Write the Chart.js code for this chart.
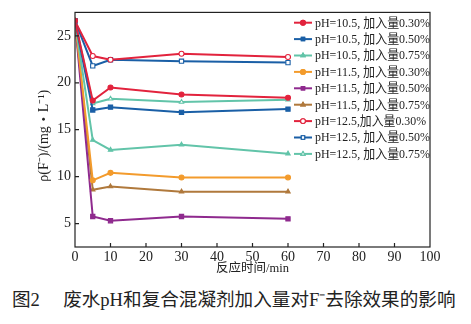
<!DOCTYPE html>
<html>
<head>
<meta charset="utf-8">
<script src="https://cdn.jsdelivr.net/npm/chart.js@4.4.1/dist/chart.umd.min.js"></script>
<style>
  body { margin: 0; background: #fff; }
  #wrap { width: 471px; height: 280px; position: relative; }
  #caption {
    position: absolute; left: 12px; top: 284px; width: 460px;
    font: 18.6px "Liberation Serif", "Noto Sans CJK SC", serif; color: #222;
    white-space: nowrap;
  }
</style>
</head>
<body>
<div id="wrap"><canvas id="chart" width="471" height="280"></canvas></div>
<div id="caption">图2　 废水pH和复合混凝剂加入量对F⁻去除效果的影响</div>
<script>
const times = [0, 5, 10, 30, 60]
const labels = [
  'pH=10.5, 加入量0.30%',
  'pH=10.5, 加入量0.50%',
  'pH=10.5, 加入量0.75%',
  'pH=11.5, 加入量0.30%',
  'pH=11.5, 加入量0.50%',
  'pH=11.5, 加入量0.75%',
  'pH=12.5,加入量0.30%',
  'pH=12.5, 加入量0.50%',
  'pH=12.5, 加入量0.75%',
]
const ph105_030 = [26.6, 18.1, 19.5, 18.75, 18.4]
const ph105_050 = [26.6, 17.1, 17.4, 16.85, 17.2]
const ph105_075 = [26.6, 13.9, 12.85, 13.4, 12.45]
const ph115_030 = [26.6, 9.6, 10.4, 9.9, 9.9]
const ph115_050 = [26.6, 5.75, 5.3, 5.75, 5.5]
const ph115_075 = [26.6, 8.6, 8.95, 8.4, 8.4]
const ph125_030 = [26.6, 22.85, 22.45, 23.1, 22.75]
const ph125_050 = [26.6, 21.8, 22.45, 22.3, 22.15]
const ph125_075 = [26.6, 17.8, 18.3, 17.95, 18.2]
const yTicks = [5, 10, 15, 20, 25]
const yTitle = 'ρ(F⁻)/(mg・L⁻¹)'

const series = [ph105_030, ph105_050, ph105_075, ph115_030, ph115_050, ph115_075, ph125_030, ph125_050, ph125_075]
const colors = ['#e2233d', '#1a5fa6', '#62c4a9', '#f39b2c', '#8f2a8e', '#b0793c', '#e2233d', '#1a5fa6', '#62c4a9']
const shapes = ['circle', 'rect', 'triangle', 'circle', 'rect', 'triangle', 'circle', 'rect', 'triangle']
const hollow = [false, false, false, false, false, false, true, true, true]

const serif = '"Liberation Serif", "Noto Sans CJK SC", serif'

const datasets = series.map((vals, i) => ({
  label: labels[i],
  data: vals.map((v, j) => ({ x: times[j], y: v })),
  borderColor: colors[i],
  backgroundColor: hollow[i] ? '#fff' : colors[i],
  pointBorderColor: colors[i],
  pointBackgroundColor: hollow[i] ? '#fff' : colors[i],
  pointStyle: shapes[i],
  pointRadius: shapes[i] == 'rect' ? 3 : 2.5,
  pointBorderWidth: 1.1,
  borderWidth: 2,
  tension: 0,
}))

// frame, inward ticks, y title and the legend inside the plot
const extras = {
  id: 'extras',
  afterDraw(chart) {
    const ctx = chart.ctx
    const a = chart.chartArea
    const xs = chart.scales.x, ys = chart.scales.y
    ctx.save()
    ctx.strokeStyle = '#222'
    ctx.lineWidth = 1.2
    ctx.strokeRect(a.left, a.top, a.right - a.left, a.bottom - a.top)
    ctx.beginPath()
    for (let t = 10; t < 100; t += 10) {
      const px = xs.getPixelForValue(t)
      ctx.moveTo(px, a.bottom)
      ctx.lineTo(px, a.bottom - 4)
    }
    yTicks.forEach((t) => {
      const py = ys.getPixelForValue(t)
      ctx.moveTo(a.left, py)
      ctx.lineTo(a.left + 4, py)
    })
    ctx.stroke()

    // y axis title
    ctx.save()
    ctx.translate(44, (a.top + a.bottom) / 2 + 6)
    ctx.rotate(-Math.PI / 2)
    ctx.font = '14px ' + serif
    ctx.fillStyle = '#222'
    ctx.textAlign = 'center'
    ctx.textBaseline = 'middle'
    ctx.fillText(yTitle, 0, 0)
    ctx.restore()

    // legend
    ctx.font = '13px ' + serif
    ctx.textBaseline = 'middle'
    datasets.forEach((ds, i) => {
      const y = 22.7 + i * 16.4
      ctx.strokeStyle = colors[i]
      ctx.lineWidth = 2
      ctx.beginPath()
      ctx.moveTo(294, y)
      ctx.lineTo(312, y)
      ctx.stroke()
      ctx.lineWidth = 1.1
      Chart.helpers.drawPoint(ctx, {
        pointStyle: shapes[i],
        radius: 2.4,
        rotation: 0,
        borderWidth: 1.1,
      }, 303, y)
      ctx.fillStyle = hollow[i] ? '#fff' : colors[i]
      ctx.fill()
      ctx.stroke()
      ctx.fillStyle = '#222'
      ctx.fillText(ds.label, 315, y + 0.5, i == 6 ? 111 : 115)
    })
    ctx.restore()
  },
}

new Chart(document.getElementById('chart'), {
  type: 'line',
  data: { datasets: datasets },
  options: {
    responsive: false,
    animation: false,
    layout: { padding: { top: 11, right: 41, left: 0, bottom: 0 } },
    plugins: { legend: { display: false }, tooltip: { enabled: false } },
    scales: {
      x: {
        type: 'linear',
        min: 0,
        max: 100,
        grid: { display: false, drawTicks: false },
        border: { display: false },
        ticks: { stepSize: 10, color: '#222', padding: 2, maxRotation: 0, font: { family: serif, size: 14 } },
        title: { display: true, text: '反应时间/min', color: '#222', padding: { top: 0, bottom: 4 }, font: { family: serif, size: 12.5 } },
        afterFit(scale) { scale.height = 33 },
      },
      y: {
        min: 2.5,
        max: 27.5,
        grid: { display: false, drawTicks: false },
        border: { display: false },
        afterBuildTicks(scale) { scale.ticks = yTicks.map((v) => ({ value: v })) },
        ticks: { color: '#222', padding: 4, font: { family: serif, size: 14 } },
        afterFit(scale) { scale.width = 75 },
      },
    },
  },
  plugins: [extras],
})
</script>
</body>
</html>
